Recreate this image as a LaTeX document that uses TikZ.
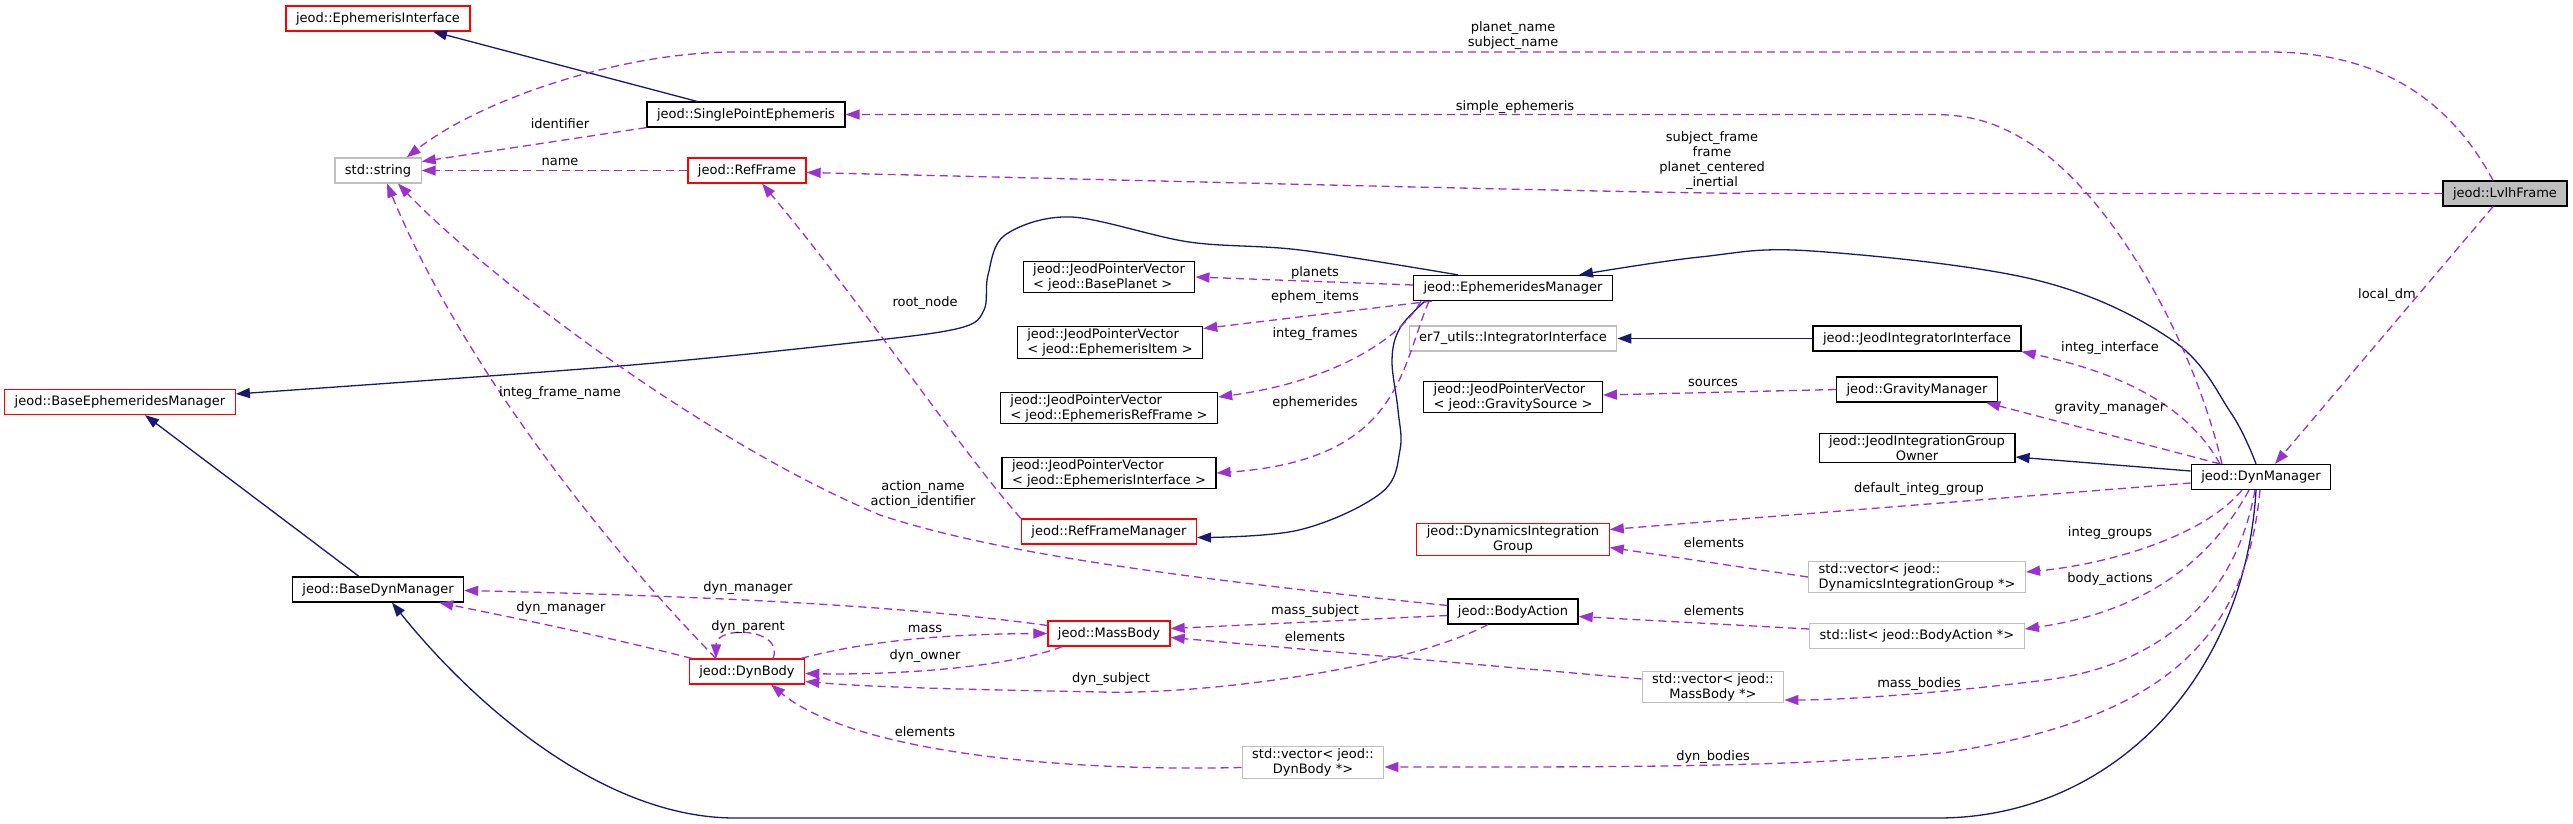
\documentclass[tikz,border=0pt]{standalone}
\usepackage{fontspec}
\setmainfont{DejaVu Sans}
\usetikzlibrary{arrows.meta}
\definecolor{usecol}{HTML}{9A32CD}
\definecolor{inhcol}{HTML}{191970}
\definecolor{grayb}{HTML}{BFBFBF}
\begin{document}
\begin{tikzpicture}[x=1pt,y=-1pt,
  every node/.style={font=\fontsize{13}{15}\selectfont},
  clsbox/.style={draw=black, line width=1.2pt, fill=white, inner xsep=10pt, inner ysep=2pt, minimum height=25pt, align=center},
  redbox/.style={clsbox, draw=red},
  graybox/.style={clsbox, draw=grayb},
  useedge/.style={draw=usecol, line width=1.3pt, dash pattern=on 8pt off 5pt, -{Triangle[length=14pt,width=10pt]}},
  inhedge/.style={draw=inhcol, line width=1.3pt, -{Triangle[length=14pt,width=10pt]}},
  lbl/.style={inner sep=0pt, align=center},
]
\fill[white] (0,0) rectangle (2573,824);
\useasboundingbox (0,0) rectangle (2573,824);

% nodes
\node[redbox] (ei) at (378,18.5) {jeod::EphemerisInterface};
\node[clsbox] (spe) at (746,114.5) {jeod::SinglePointEphemeris};
\node[graybox] (str) at (378,170.5) {std::string};
\node[redbox] (rf) at (747,170.5) {jeod::RefFrame};
\node[clsbox, fill=grayb] (lvlh) at (2505,193.5) {jeod::LvlhFrame};
\node[redbox] (bem) at (120,402) {jeod::BaseEphemeridesManager};
\node[clsbox] (em) at (1513,288) {jeod::EphemeridesManager};
\node[clsbox, align=left] (jbp) at (1109,277) {jeod::JeodPointerVector\\< jeod::BasePlanet >};
\node[clsbox, align=left] (jei) at (1110,342.5) {jeod::JeodPointerVector\\< jeod::EphemerisItem >};
\node[graybox] (er7) at (1513,338.5) {er7\_utils::IntegratorInterface};
\node[clsbox] (jii) at (1917,338.5) {jeod::JeodIntegratorInterface};
\node[clsbox, align=left] (jerf) at (1109,408) {jeod::JeodPointerVector\\< jeod::EphemerisRefFrame >};
\node[clsbox, align=left] (jgs) at (1513,397) {jeod::JeodPointerVector\\< jeod::GravitySource >};
\node[clsbox] (gm) at (1917,389.5) {jeod::GravityManager};
\node[clsbox] (jigo) at (1917,448) {jeod::JeodIntegrationGroup\\Owner};
\node[clsbox] (dm) at (2261,477) {jeod::DynManager};
\node[clsbox, align=left] (jeif) at (1109,473) {jeod::JeodPointerVector\\< jeod::EphemerisInterface >};
\node[redbox] (rfm) at (1109,531.5) {jeod::RefFrameManager};
\node[redbox] (dig) at (1513,539.5) {jeod::DynamicsIntegration\\Group};
\node[graybox, align=left] (vdig) at (1917,577) {std::vector< jeod::\\DynamicsIntegrationGroup *>};
\node[clsbox] (bdm) at (378,589.5) {jeod::BaseDynManager};
\node[clsbox] (ba) at (1513,611.5) {jeod::BodyAction};
\node[graybox] (lba) at (1917,636) {std::list< jeod::BodyAction *>};
\node[redbox] (mb) at (1109,633.5) {jeod::MassBody};
\node[redbox] (db) at (747,671.5) {jeod::DynBody};
\node[graybox] (vmb) at (1713,687) {std::vector< jeod::\\MassBody *>};
\node[graybox] (vdb) at (1313,762.5) {std::vector< jeod::\\DynBody *>};

% helper coordinates for long curves
\coordinate (emB) at ([xshift=-55pt]em.north);
\coordinate (bemB) at ([yshift=8pt]bem.east);
\coordinate (dmC) at ([xshift=-5pt]dm.north);
\coordinate (emC) at ([xshift=66pt]em.north);
\coordinate (emD) at ([xshift=-88pt]em.south);
\coordinate (rfmD) at ([yshift=-6pt]rfm.east);

% inheritance edges
\draw[inhedge] ([xshift=-49pt]spe.north) -- ([xshift=55pt]ei.south);
\draw[inhedge] plot[smooth,tension=0.55] coordinates {(emB) (1300,250) (1189,242) (1071,217) (1005,235) (988,275) (984,310) (960,328) (860,342) (620,366) (bemB)};
\draw[inhedge] plot[smooth,tension=0.6] coordinates {(dmC) (2231,413) (2172,340) (2036,280) (1812,251) (1700,257) (emC)};
\draw[inhedge] plot[smooth,tension=0.6] coordinates {(emD) (1400,328) (1392,360) (1398,410) (1400,450) (1381,493) (1299,530) (rfmD)};
\draw[inhedge] ([xshift=-5pt]dm.south) .. controls (2245,680) and (2110,818) .. (1938,818) -- (735,818) .. controls (600,818) and (470,700) .. ([xshift=14pt]bdm.south);
\draw[inhedge] ([xshift=-19pt]bdm.north) -- ([xshift=25pt]bem.south);
\draw[inhedge] (jii.west) -- (er7.east);
\draw[inhedge] ([yshift=6pt]dm.west) -- ([yshift=-9pt]jigo.east);

% usage edges
\draw[useedge] ([xshift=-12pt]lvlh.north) .. controls (2450,100) and (2380,52) .. (2269,52) -- (735,52) .. controls (620,52) and (480,100) .. ([xshift=-15pt]str.north east);
\draw[useedge] ([xshift=-39pt]dm.north) .. controls (2190,330) and (2110,200) .. (2040,150) .. controls (2000,122) and (1970,114.5) .. (1932,114.5) -- (spe.east);
\draw[useedge] (lvlh.west) -- (1760,193.5) .. controls (1650,193.5) and (1000,177) .. ([yshift=-2pt]rf.east);
\draw[useedge] ([xshift=-12pt]lvlh.south) -- ([xshift=14pt]dm.north);
\draw[useedge] (spe.south west) -- ([yshift=9pt]str.east);
\draw[useedge] (rf.west) -- (str.east);
\draw[useedge] (rfm.north west) .. controls (960,450) and (860,300) .. ([xshift=15pt]rf.south);
\draw[useedge] ([xshift=-31pt]db.north) .. controls (600,540) and (460,360) .. ([xshift=9pt]str.south);
\draw[useedge] ([yshift=6pt]ba.west) .. controls (1200,580) and (1000,555) .. (880,515) .. controls (700,440) and (480,270) .. ([xshift=20pt]str.south);
\draw[useedge] ([yshift=3pt]em.west) -- (jbp.east);
\draw[useedge] ([xshift=19pt]em.south west) -- ([yshift=14pt]jei.east);
\draw[useedge] ([xshift=8pt]em.south west) .. controls (1400,340) and (1330,382) .. ([yshift=11pt]jerf.east);
\draw[useedge] ([xshift=16pt]em.south west) .. controls (1400,370) and (1400,460) .. (jeif.east);
\draw[useedge] (gm.west) -- ([yshift=2pt]jgs.east);
\draw[useedge] ([xshift=-41pt]dm.north) .. controls (2190,410) and (2130,375) .. (jii.south east);
\draw[useedge] ([xshift=-41pt]dm.north) -- ([xshift=-12pt]gm.south east);
\draw[useedge] ([yshift=-6pt]dm.west) -- ([yshift=10pt]dig.east);
\draw[useedge] (vdig.west) -- ([yshift=-8pt]dig.east);
\draw[useedge] ([xshift=-19pt]dm.south) .. controls (2200,540) and (2100,565) .. ([yshift=5pt]vdig.east);
\draw[useedge] ([xshift=-12pt]dm.south) .. controls (2200,580) and (2120,615) .. ([yshift=7pt]lba.east);
\draw[useedge] ([yshift=7pt]lba.west) -- ([yshift=-5pt]ba.east);
\draw[useedge] ([xshift=-6pt]dm.south) .. controls (2235,600) and (2160,665) .. (2046,680) .. controls (1950,692) and (1850,700) .. ([yshift=-13pt]vmb.east);
\draw[useedge] ([xshift=-1pt]dm.south) .. controls (2245,650) and (2150,720) .. (1950,752) .. controls (1800,768) and (1600,767) .. ([yshift=-4.5pt]vdb.east);
\draw[useedge] ([yshift=-4pt]ba.west) -- ([yshift=5pt]mb.east);
\draw[useedge] ([yshift=8pt]vmb.west) -- ([yshift=-4pt]mb.east);
\draw[useedge] ([xshift=-25pt]ba.south) .. controls (1400,670) and (1200,695) .. (1100,692) .. controls (1000,690) and (880,688) .. ([yshift=-10pt]db.east);
\draw[useedge] ([xshift=-4pt]db.north east) .. controls (870,640) and (950,634) .. (mb.west);
\draw[useedge] ([xshift=15pt]mb.south west) .. controls (1000,670) and (880,675) .. ([yshift=-2pt]db.east);
\draw[useedge] ([yshift=8pt]mb.west) .. controls (900,605) and (700,596) .. ([yshift=-1pt]bdm.east);
\draw[useedge] ([xshift=3pt]db.north west) .. controls (600,635) and (500,615) .. ([xshift=-25pt]bdm.south east);
\draw[useedge] ([xshift=26pt]db.north) .. controls (785,628) and (716,625) .. ([xshift=-31pt]db.north);
\draw[useedge] ([yshift=-5pt]vdb.west) .. controls (1050,772) and (850,750) .. ([xshift=24pt]db.south);

% labels
\node[lbl] (l1) at (1513,36) {planet\_name\\subject\_name};
\node[lbl] (l2) at (1515,107) {simple\_ephemeris};
\node[lbl] (l3) at (1712,161) {subject\_frame\\frame\\planet\_centered\\\_inertial};
\node[lbl] (l4) at (2387,295) {local\_dm};
\node[lbl] (l5) at (560,124) {identifier};
\node[lbl] (l6) at (560,162) {name};
\node[lbl] (l7) at (925,303) {root\_node};
\node[lbl] (l8) at (560,393) {integ\_frame\_name};
\node[lbl] (l9) at (923,495) {action\_name\\action\_identifier};
\node[lbl] (l10) at (1315,273) {planets};
\node[lbl] (l11) at (1315,297) {ephem\_items};
\node[lbl] (l12) at (1315,334) {integ\_frames};
\node[lbl] (l13) at (1315,403) {ephemerides};
\node[lbl] (l14) at (1713,383) {sources};
\node[lbl] (l15) at (2110,348) {integ\_interface};
\node[lbl] (l16) at (2110,408) {gravity\_manager};
\node[lbl] (l17) at (1919,489) {default\_integ\_group};
\node[lbl] (l18) at (1714,543) {elements};
\node[lbl] (l19) at (2110,533) {integ\_groups};
\node[lbl] (l20) at (2110,579) {body\_actions};
\node[lbl] (l21) at (1714,611) {elements};
\node[lbl] (l22) at (1919,684) {mass\_bodies};
\node[lbl] (l23) at (1713,757) {dyn\_bodies};
\node[lbl] (l24) at (1315,611) {mass\_subject};
\node[lbl] (l25) at (1315,637) {elements};
\node[lbl] (l26) at (1111,679) {dyn\_subject};
\node[lbl] (l27) at (925,629) {mass};
\node[lbl] (l28) at (925,656) {dyn\_owner};
\node[lbl] (l29) at (748,588) {dyn\_manager};
\node[lbl] (l30) at (561,608) {dyn\_manager};
\node[lbl] (l31) at (748,627) {dyn\_parent};
\node[lbl] (l32) at (925,732) {elements};
\end{tikzpicture}
\end{document}
